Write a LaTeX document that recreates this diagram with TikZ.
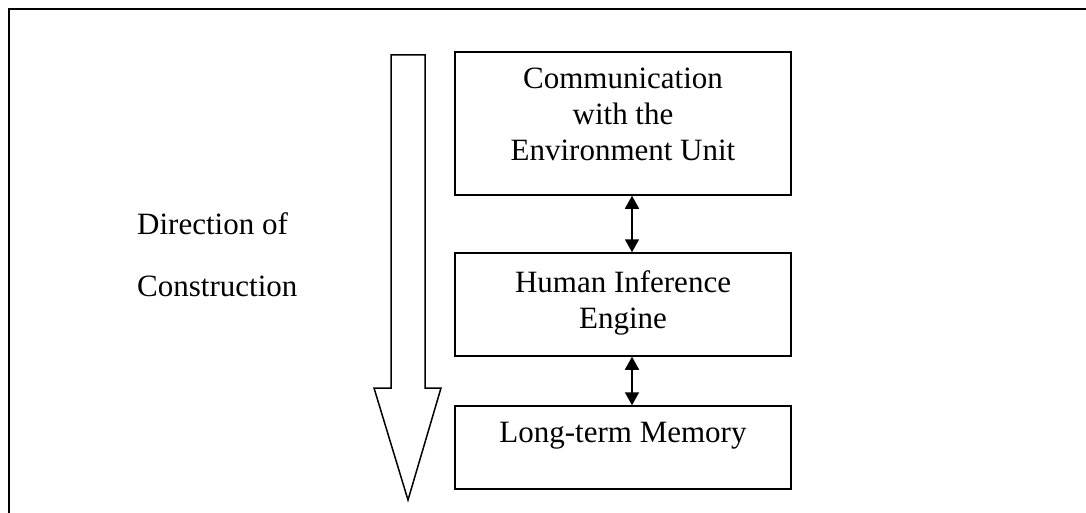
\documentclass[tikz,border=0pt]{standalone}
\usepackage{fontspec}
\setmainfont{Liberation Serif}
\usetikzlibrary{arrows.meta}
\tikzstyle{unit} = [draw=black, line width=1.5pt, minimum width=336pt, inner sep=0pt]
\tikzstyle{txt} = [font={\fontsize{31}{36}\selectfont}, align=center, inner sep=0pt, anchor=north]
\tikzstyle{link} = [line width=1.6pt, {Triangle[length=13pt,width=14pt]}-{Triangle[length=13pt,width=14pt]}]
\tikzstyle{hollow} = [draw=black, line width=1.5pt, line join=miter]

\begin{document}
\begin{tikzpicture}[x=1pt,y=-1pt]
        \useasboundingbox (0,0) rectangle (1086,513);
        \draw[line width=2pt] (9,513) |- (1086,9);
        % direction arrow
        \draw[hollow] (391,55) -- (425,55) -- (425,388) -- (441,388) -- (408,500)
                -- (374,388) -- (391,388) -- cycle;
        \node[txt, anchor=north west, align=left, font={\fontsize{31}{62}\selectfont}](direction) at (137,212){Direction of\\Construction};
        \node[unit, minimum height=143pt](comm) at (623,123.5){};
        \node[unit, minimum height=103pt](engine) at (623,304.5){};
        \node[unit, minimum height=83pt](memory) at (623,447.5){};
        \node[txt](commtext) at (623,68){Communication\\with the\\Environment Unit};
        \node[txt](enginetext) at (623,270){Human Inference\\Engine};
        \node[txt](memorytext) at (623,422){Long-term Memory};
        \draw[link]([xshift=9pt]comm.south)--([xshift=9pt]engine.north);
        \draw[link]([xshift=9pt]engine.south)--([xshift=9pt]memory.north);
      \end{tikzpicture}
\end{document}
